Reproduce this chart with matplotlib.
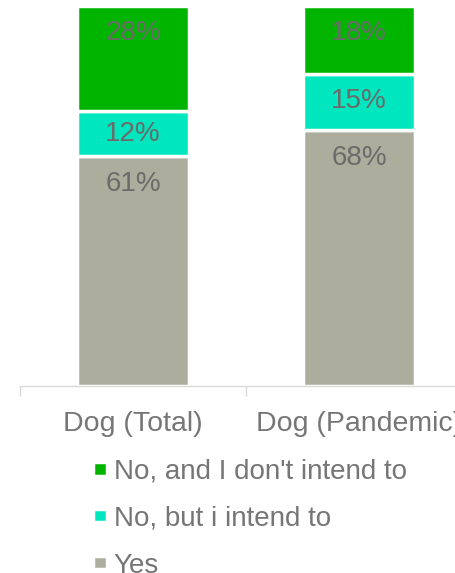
import matplotlib
matplotlib.use("Agg")
import matplotlib.pyplot as plt
import numpy as np

plt.rcParams['font.family'] = ['Liberation Sans', 'DejaVu Sans']

categories = ["Dog (Total)", "Dog (Pandemic)"]
series_names = ["Yes", "No, but i intend to", "No, and I don't intend to"]
yes_vals = [61, 68]
intend_vals = [12, 15]
dont_vals = [28, 18]
colors = ["#adad9d", "#00e6be", "#00b400"]

W, H = 455, 573
fig = plt.figure(figsize=(W / 100, H / 100), dpi=100)
ax_left, ax_right = 20 / W, 472 / W
ax_bottom, ax_top = 1 - 386 / H, 1 - 6 / H
ax = fig.add_axes([ax_left, ax_bottom, ax_right - ax_left, ax_top - ax_bottom])

x = np.arange(len(categories))
width = 0.495
stack = [yes_vals, intend_vals, dont_vals]
bottoms = np.zeros(len(categories))
containers = []
for vals, name, col in zip(stack, series_names, colors):
    vals = np.array(vals, dtype=float)
    bc = ax.bar(x, vals, width, bottom=bottoms, color=col, edgecolor="white",
                linewidth=2.5, label=name)
    containers.append(bc)
    for xi, b, v in zip(x, bottoms, vals):
        top = b + v
        off = min(7.3, v / 2)
        ax.text(xi, top - off, f"{int(v)}%", ha="center", va="center",
                fontsize=20, color="#6b6b6b")
    bottoms += vals

ax.set_xlim(-0.5, 1.5)
ax.set_ylim(0, 101)
ax.set_yticks([])
for s in ["top", "right", "left"]:
    ax.spines[s].set_visible(False)
ax.spines["bottom"].set_color("#d9d9d9")
ax.spines["bottom"].set_linewidth(1.0)

ax.set_xticks(x)
ax.set_xticklabels(categories, fontsize=20.5, color="#767676")
ax.tick_params(axis="x", which="major", length=0, pad=18)
ax.set_xticks([-0.5, 0.5, 1.5], minor=True)
ax.tick_params(axis="x", which="minor", length=7, width=1.0, color="#d9d9d9",
               direction="out")

handles = [containers[2][0], containers[1][0], containers[0][0]]
labels = [series_names[2], series_names[1], series_names[0]]
fig.legend(handles, labels, loc="upper left",
           bbox_to_anchor=(93 / W, 1 - 459 / H), frameon=False,
           fontsize=20, labelcolor="#767676", handlelength=0.5,
           handleheight=0.35, handletextpad=0.25, labelspacing=0.75,
           borderpad=0, borderaxespad=0)

fig.savefig("out.png", dpi=100)
